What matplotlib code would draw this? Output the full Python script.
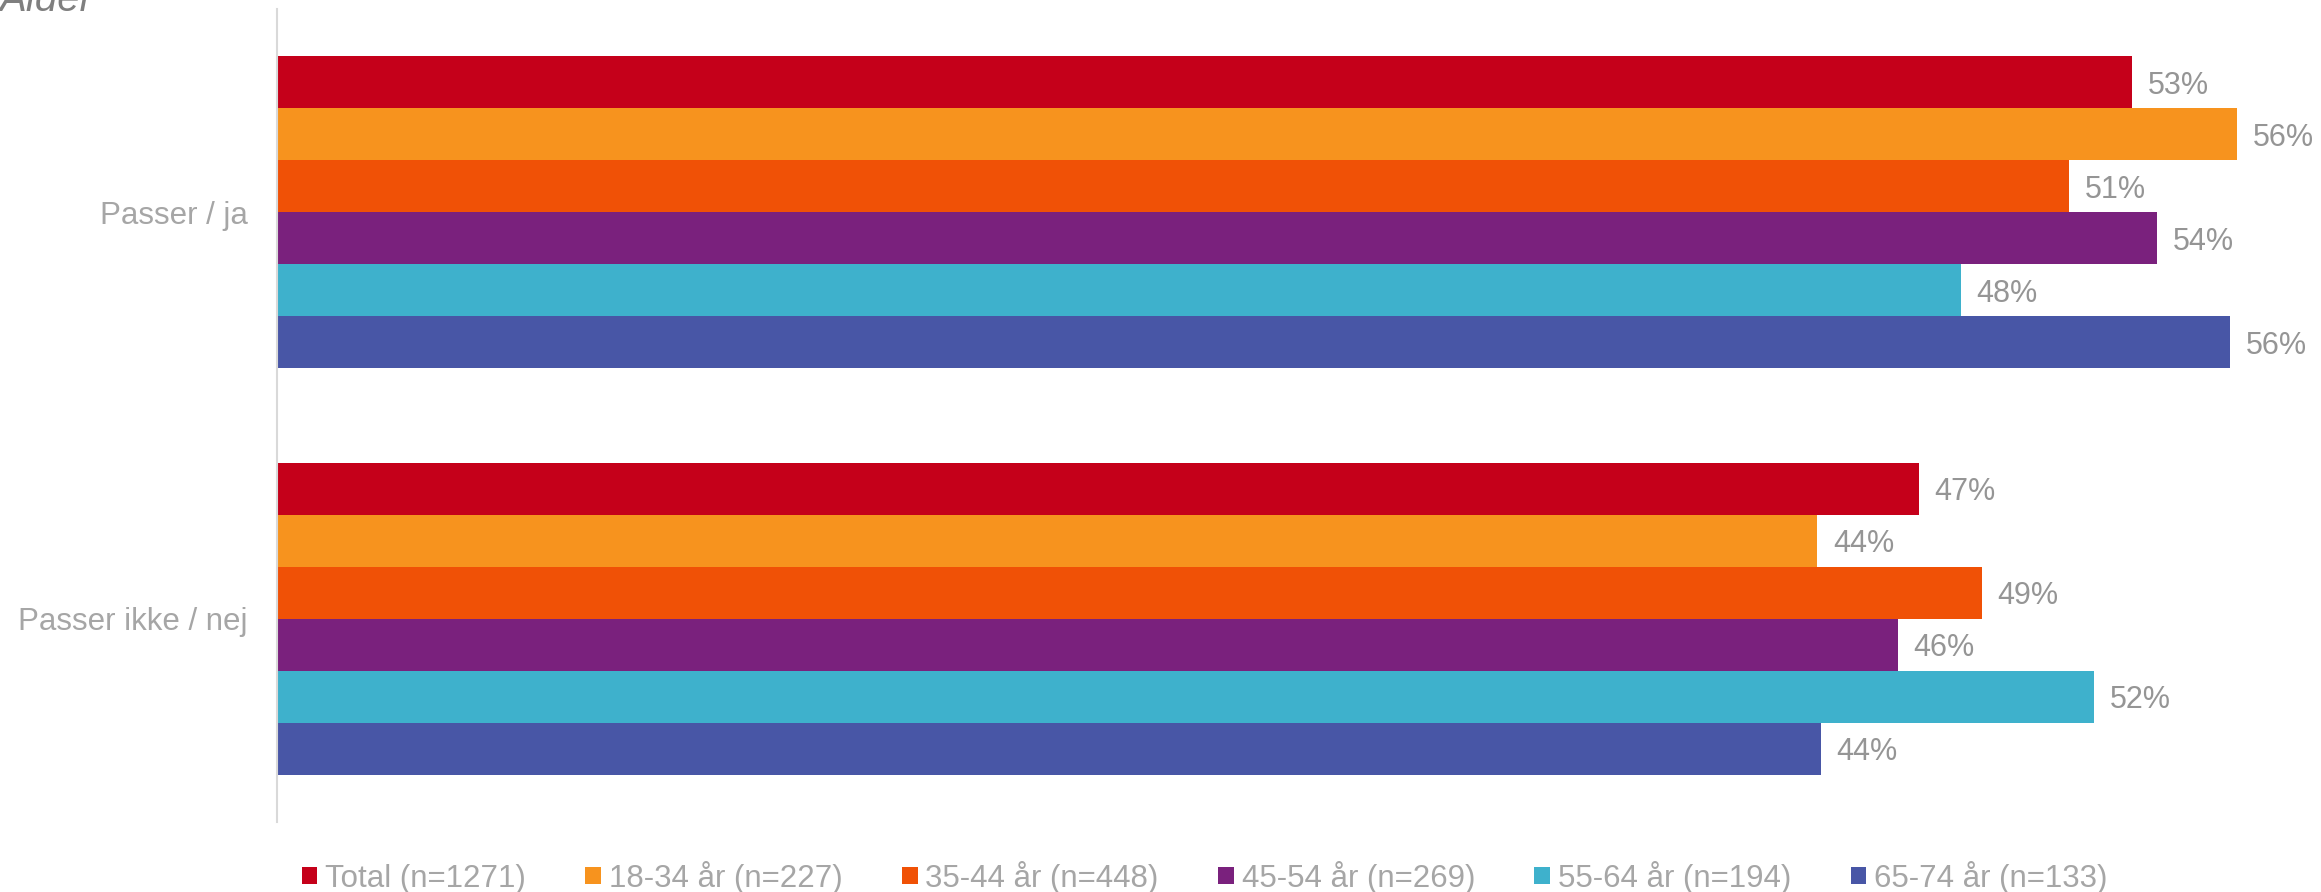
import matplotlib.pyplot as plt
from matplotlib.patches import Patch

plt.rcParams['font.family'] = ['Liberation Sans', 'DejaVu Sans']

# data
categories = ['Passer / ja', 'Passer ikke / nej']
series_names = ['Total (n=1271)', '18-34 år (n=227)', '35-44 år (n=448)',
                '45-54 år (n=269)', '55-64 år (n=194)', '65-74 år (n=133)']
values_ja = [53.0, 56.0, 51.2, 53.7, 48.1, 55.8]
values_nej = [46.9, 44.0, 48.7, 46.3, 51.9, 44.1]
labels_ja = ['53%', '56%', '51%', '54%', '48%', '56%']
labels_nej = ['47%', '44%', '49%', '46%', '52%', '44%']
colors = ['#C5001A', '#F7931E', '#F05106', '#7A217D', '#3EB1CC', '#4856A6']

fig = plt.figure(figsize=(23.21, 8.92), dpi=100)
ax = fig.add_axes([277 / 2321, 1 - 822 / 892, 1 - 277 / 2321, (822 - 9) / 892])

h = 0.128
for i, name in enumerate(series_names):
    off = (i - 2.5) * h
    vals = [values_ja[i], values_nej[i]]
    labs = [labels_ja[i], labels_nej[i]]
    bars = ax.barh([0 + off, 1 + off], vals, height=h, color=colors[i],
                   edgecolor='none', label=name)
    txts = ax.bar_label(bars, labels=labs, padding=11.5, fontsize=22, color='#959595')
    for t in txts:
        t.set_verticalalignment('center_baseline')

ax.set_yticks([0, 1])
ax.set_yticklabels(categories, fontsize=22.5, color='#a6a6a6')
ax.tick_params(axis='y', length=0, pad=21)
ax.set_ylim(1.5, -0.5)
ax.set_xlim(0, 58.4)
ax.set_xticks([])
for s in ['top', 'right', 'bottom']:
    ax.spines[s].set_visible(False)
ax.spines['left'].set_color('#d9d9d9')
ax.spines['left'].set_linewidth(1.5)

handles = [Patch(facecolor=c, edgecolor='none') for c in colors]
leg = fig.legend(handles, series_names, loc='center', ncol=6,
                 bbox_to_anchor=(0.519, 1 - 877 / 892), frameon=False,
                 fontsize=22.5, handlelength=0.5, handleheight=0.5,
                 handletextpad=0.25, columnspacing=1.9, borderpad=0)
for t in leg.get_texts():
    t.set_color('#a6a6a6')

# title sits partly above the top edge, as in the reference
fig.text(0.0, 1 - 11 / 892, 'Alder', fontsize=29, style='italic',
         color='#7f7f7f', ha='left', va='baseline')

fig.savefig('out.png', dpi=100)
